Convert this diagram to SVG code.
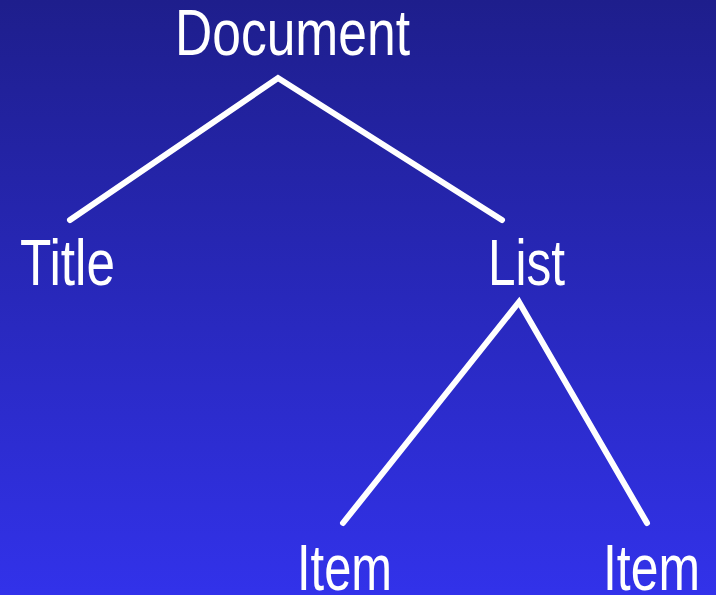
<svg xmlns="http://www.w3.org/2000/svg" width="716" height="595" viewBox="0 0 716 595">
<defs>
<linearGradient id="bg" x1="0" y1="0" x2="0" y2="1">
<stop offset="0" stop-color="#1e1e8c"/>
<stop offset="1" stop-color="#3232ea"/>
</linearGradient>
<style>
.lbl{font-family:"Liberation Sans",Arial,sans-serif;font-size:64px;fill:#ffffff}
.edge{fill:none;stroke:#ffffff;stroke-width:6;stroke-linecap:round;stroke-linejoin:miter}
</style>
</defs>
<rect x="0" y="0" width="716" height="595" fill="url(#bg)"/>
<g id="connectors">
<polyline class="edge" points="70,220 278,78 502,220"/>
<polyline class="edge" points="343,523 519,302 647,523"/>
</g>
<g id="document"><text class="lbl" x="175" y="55" textLength="235" lengthAdjust="spacingAndGlyphs">Document</text></g>
<g id="title"><text class="lbl" x="20" y="285" textLength="95" lengthAdjust="spacingAndGlyphs">Title</text></g>
<g id="list"><text class="lbl" x="488" y="285" textLength="77" lengthAdjust="spacingAndGlyphs">List</text></g>
<g id="item1"><text class="lbl" x="297" y="590" textLength="95" lengthAdjust="spacingAndGlyphs">Item</text></g>
<g id="item2"><text class="lbl" x="603" y="590" textLength="97" lengthAdjust="spacingAndGlyphs">Item</text></g>
</svg>
